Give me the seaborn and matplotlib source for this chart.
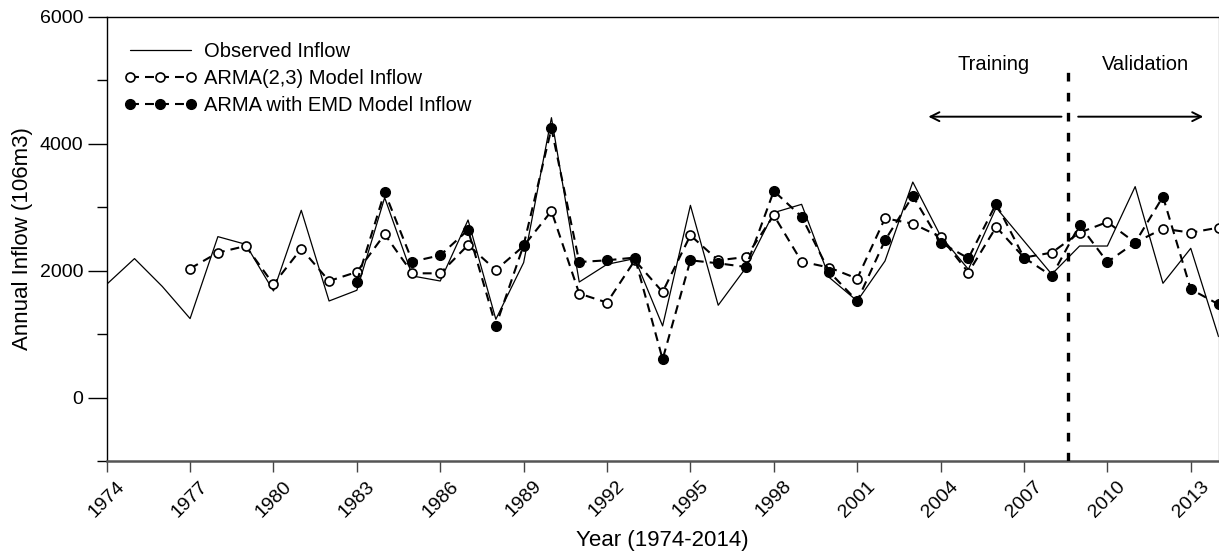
import numpy as np
import pandas as pd
import matplotlib
matplotlib.use("Agg")
import matplotlib.pyplot as plt
import seaborn as sns

# ---- data ----
obs_years = list(range(1974, 2015))
observed = [1784, 2189, 1750, 1244, 2535, 2414, 1679, 2950, 1521, 1690,
            3150, 1915, 1836, 2797, 1233, 2126, 4409, 1820, 2099, 2189,
            1128, 3028, 1454, 2047, 2913, 3044, 1890, 1521, 2151, 3395,
            2545, 2020, 2992, 2466, 1942, 2387, 2387, 3323, 1800, 2351,
            960]

arma_years = list(range(1977, 2015))
arma = [2032, 2283, 2387, 1784, 2346, 1836, 1978, 2572, 1957, 1957,
        2403, 2009, 2387, 2938, 1638, 1496, 2162, 1663, 2556, 2162,
        2214, 2871, 2142, 2047, 1874, 2824, 2740, 2529, 1969, 2687,
        2205, 2283, 2598, 2765, 2441, 2661, 2598, 2677]

emd_years = list(range(1983, 2015))
emd = [1827, 3238, 2142, 2241, 2640, 1128, 2403, 4241, 2135, 2162,
       2205, 603, 2162, 2115, 2057, 3254, 2850, 1978, 1521, 2477,
       3175, 2441, 2194, 3055, 2205, 1915, 2718, 2135, 2441, 3165,
       1706, 1469]

labels = ["Observed Inflow", "ARMA(2,3) Model Inflow", "ARMA with EMD Model Inflow"]
xticks = list(range(1974, 2014, 3))
split_year = 2008.6

# ---- style ----
sns.set_theme(style="ticks")
plt.rcParams['font.family'] = ['Liberation Sans', 'DejaVu Sans']
plt.rcParams.update({"text.color": "black", "axes.labelcolor": "black",
                     "xtick.color": "black", "ytick.color": "black"})

fig = plt.figure(figsize=(12.19, 5.53), dpi=100)
ax = fig.add_axes([0.08753, 0.16637, 0.9121, 0.8034])

df_obs = pd.DataFrame({"year": obs_years, "value": observed})
df_arma = pd.DataFrame({"year": arma_years, "value": arma})
df_emd = pd.DataFrame({"year": emd_years, "value": emd})

sns.lineplot(data=df_obs, x="year", y="value", ax=ax, color="black",
             linewidth=0.9, label=labels[0], zorder=2)
sns.lineplot(data=df_arma, x="year", y="value", ax=ax, color="black",
             linewidth=1.5, linestyle=(0, (4.3, 2.9)), marker="o",
             markersize=6.5, markerfacecolor="white", markeredgecolor="black",
             markeredgewidth=1.2, label=labels[1], zorder=3)
sns.lineplot(data=df_emd, x="year", y="value", ax=ax, color="black",
             linewidth=1.5, linestyle=(0, (4.3, 2.9)), marker="o",
             markersize=7.0, markerfacecolor="black", markeredgecolor="black",
             markeredgewidth=1.0, label=labels[2], zorder=4)

# split line
ax.vlines(split_year, -1000, 5300, colors="black", linewidth=2.4,
          linestyles=[(0, (2.6, 3.4))], zorder=5)

# arrows and texts
ax.annotate("", xy=(2003.46, 4425), xytext=(2008.45, 4425),
            arrowprops=dict(arrowstyle="->", lw=1.4, color="black", mutation_scale=16))
ax.annotate("", xy=(2013.55, 4425), xytext=(2008.85, 4425),
            arrowprops=dict(arrowstyle="->", lw=1.4, color="black", mutation_scale=16))
ax.text(2005.9, 5250, "Training", ha="center", va="center", fontsize=14.5)
ax.text(2011.37, 5250, "Validation", ha="center", va="center", fontsize=14.5)

# axes limits and ticks
ax.set_xlim(1974, 2014)
ax.set_ylim(-1000, 6000)
ax.set_xticks(xticks)
ax.set_xticklabels([str(t) for t in xticks], rotation=45, ha="center", fontsize=14)
ax.set_yticks([0, 2000, 4000, 6000])
ax.set_yticklabels(["0", "2000", "4000", "6000"], fontsize=14)
ax.set_yticks([-1000, 1000, 3000, 5000], minor=True)
ax.tick_params(axis="y", which="major", direction="out", length=14, width=1, color="black", pad=3)
ax.tick_params(axis="y", which="minor", direction="out", length=7, width=1, color="black")
ax.tick_params(axis="x", which="major", direction="out", length=8, width=1, color="#444444", pad=4)

for side in ["left", "top"]:
    ax.spines[side].set_color("black")
    ax.spines[side].set_linewidth(1.0)
ax.spines["bottom"].set_color("#555555")
ax.spines["bottom"].set_linewidth(1.8)
ax.spines["right"].set_color("#999999")
ax.spines["right"].set_linewidth(1.0)

ax.set_xlabel("Year (1974-2014)", fontsize=16)
ax.set_ylabel("Annual Inflow (106m3)", fontsize=16)
ax.xaxis.set_label_coords(0.5, -0.155)
ax.yaxis.set_label_coords(-0.066, 0.5)

leg = ax.legend(loc="upper left", bbox_to_anchor=(0.0084, 0.962), frameon=False,
                fontsize=14.5, handlelength=3.6, handletextpad=0.35, numpoints=3,
                labelspacing=0.4, borderaxespad=0)

fig.savefig("out.png", dpi=100)
